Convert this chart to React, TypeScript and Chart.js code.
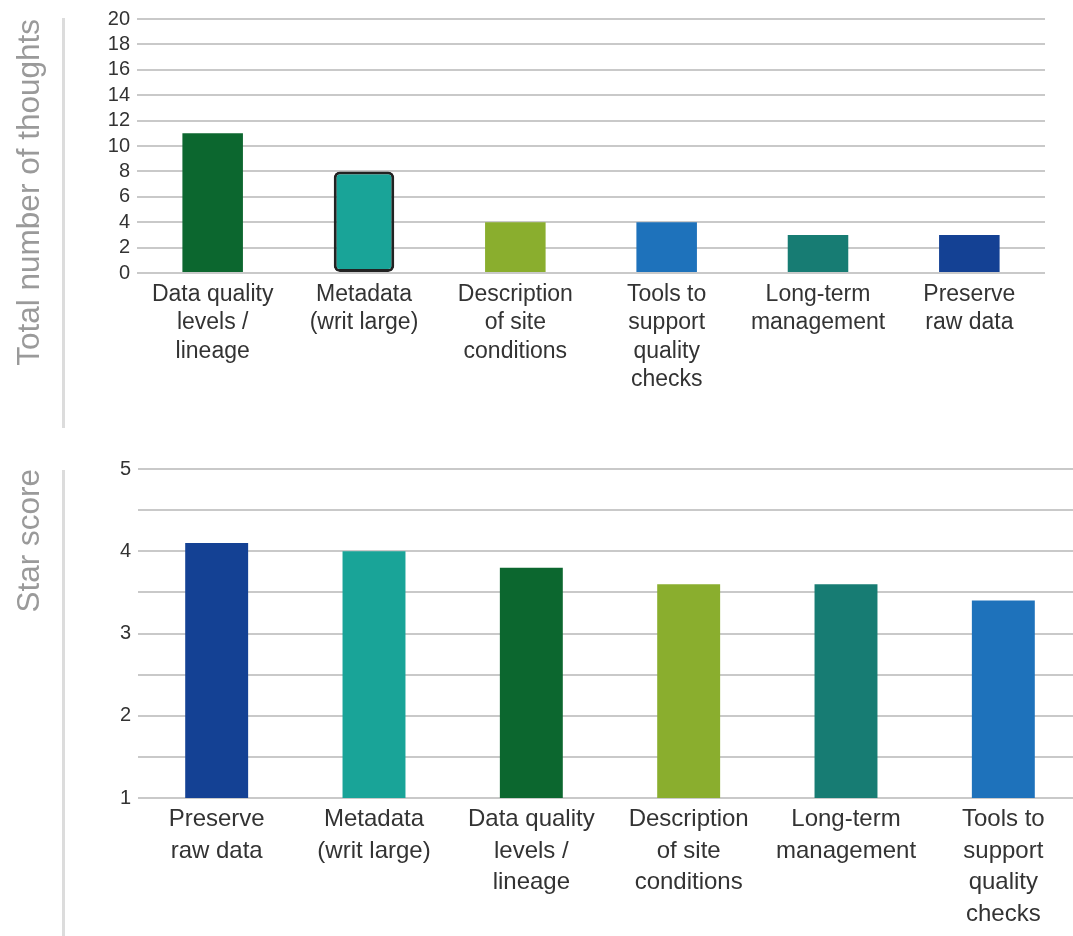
import React, { useEffect, useRef } from "react";
import { Chart, registerables } from "chart.js";

Chart.register(...registerables);

if (typeof document !== "undefined") {
  document.body.style.margin = "0";
}

// ---- Data ----
const countCategories: (string | string[])[] = [
  ["Data quality", "levels /", "lineage"],
  ["Metadata", "(writ large)"],
  ["Description", "of site", "conditions"],
  ["Tools to", "support", "quality", "checks"],
  ["Long-term", "management"],
  ["Preserve", "raw data"],
];
const countValues = [11, 8, 4, 4, 3, 3];
const countColors = ["#0c672f", "#19a498", "#8aae2e", "#1e72bb", "#177c73", "#144194"];
const countBorderWidths = [0, 3, 0, 0, 0, 0];
const countTicks = [0, 2, 4, 6, 8, 10, 12, 14, 16, 18, 20];

const starCategories: (string | string[])[] = [
  ["Preserve", "raw data"],
  ["Metadata", "(writ large)"],
  ["Data quality", "levels /", "lineage"],
  ["Description", "of site", "conditions"],
  ["Long-term", "management"],
  ["Tools to", "support", "quality", "checks"],
];
const starValues = [4.1, 4.0, 3.8, 3.6, 3.6, 3.4];
const starColors = ["#144194", "#19a498", "#0c672f", "#8aae2e", "#177c73", "#1e72bb"];
const starTicks = [1, 2, 3, 4, 5];

const FONT = "'Liberation Sans', Arial, sans-serif";
const TITLE_FONT = "'Liberation Sans', Arial, sans-serif";
const GRID = "#c9c9c9";

function useChart(ref: React.RefObject<HTMLCanvasElement | null>, build: () => any) {
  useEffect(() => {
    if (!ref.current) return;
    const chart = new Chart(ref.current, build());
    return () => chart.destroy();
  }, []);
}

function TopChart() {
  const ref = useRef<HTMLCanvasElement | null>(null);
  useChart(ref, () => ({
    type: "bar",
    data: {
      labels: countCategories,
      datasets: [
        {
          data: countValues,
          backgroundColor: countColors,
          borderColor: "#222222",
          borderWidth: countBorderWidths,
          borderRadius: countBorderWidths.map((w) => (w ? 6 : 0)),
          borderSkipped: false,
          categoryPercentage: 1,
          barPercentage: 0.4,
        },
      ],
    },
    options: {
      responsive: false,
      animation: false,
      layout: { padding: { top: 18, right: 28, left: 0, bottom: 0 } },
      plugins: { legend: { display: false }, tooltip: { enabled: false } },
      scales: {
        x: {
          grid: { display: false },
          border: { display: false },
          ticks: {
            color: "#333333",
            font: { family: FONT, size: 23, lineHeight: 1.24 },
            padding: -1,
            maxRotation: 0,
            autoSkip: false,
          },
          afterFit: (s: any) => {
            s.height = 157;
          },
        },
        y: {
          min: 0,
          max: 20,
          afterBuildTicks: (s: any) => {
            s.ticks = countTicks.map((v) => ({ value: v }));
          },
          grid: { color: GRID, lineWidth: 2, drawTicks: false },
          border: { display: false },
          ticks: {
            color: "#333333",
            font: { family: FONT, size: 20 },
            padding: 7,
            autoSkip: false,
          },
          title: {
            display: true,
            text: "Total number of thoughts",
            align: "end",
            color: "#9a9a9a",
            font: { family: TITLE_FONT, size: 31.5 },
            padding: { top: 11, bottom: 0 },
          },
          afterFit: (s: any) => {
            s.width = 137;
          },
        },
      },
    },
  }));
  return <canvas ref={ref} width={1073} height={430} style={{ position: "absolute", left: 0, top: 0 }} />;
}

function BottomChart() {
  const ref = useRef<HTMLCanvasElement | null>(null);
  useChart(ref, () => ({
    type: "bar",
    data: {
      labels: starCategories,
      datasets: [
        {
          data: starValues,
          backgroundColor: starColors,
          categoryPercentage: 1,
          barPercentage: 0.4,
        },
      ],
    },
    options: {
      responsive: false,
      animation: false,
      layout: { padding: { top: 29, right: 0, left: 0, bottom: 0 } },
      plugins: { legend: { display: false }, tooltip: { enabled: false } },
      scales: {
        x: {
          grid: { display: false },
          border: { display: false },
          ticks: {
            color: "#333333",
            font: { family: FONT, size: 24, lineHeight: 1.31 },
            padding: -2,
            maxRotation: 0,
            autoSkip: false,
          },
          afterFit: (s: any) => {
            s.height = 138;
          },
        },
        y: {
          min: 1,
          max: 5,
          ticks: {
            stepSize: 0.5,
            color: "#333333",
            font: { family: FONT, size: 20 },
            padding: 7,
            autoSkip: false,
            callback: (v: any) => (starTicks.includes(Number(v)) ? String(v) : ""),
          },
          grid: { color: GRID, lineWidth: 2, drawTicks: false },
          border: { display: false },
          title: {
            display: true,
            text: "Star score",
            align: "end",
            color: "#9a9a9a",
            font: { family: TITLE_FONT, size: 31.5 },
            padding: { top: 11, bottom: 0 },
          },
          afterFit: (s: any) => {
            s.width = 138;
          },
        },
      },
    },
  }));
  return <canvas ref={ref} width={1082} height={496} style={{ position: "absolute", left: 0, top: 440 }} />;
}

export default function App() {
  return (
    <div
      style={{
        position: "relative",
        width: 1073,
        height: 936,
        overflow: "hidden",
        background: "#ffffff",
      }}
    >
      <TopChart />
      <BottomChart />
      <div style={{ position: "absolute", left: 62, top: 18, width: 3, height: 410, background: "#dcdcdc" }} />
      <div style={{ position: "absolute", left: 62, top: 470, width: 3, height: 466, background: "#dcdcdc" }} />
    </div>
  );
}
